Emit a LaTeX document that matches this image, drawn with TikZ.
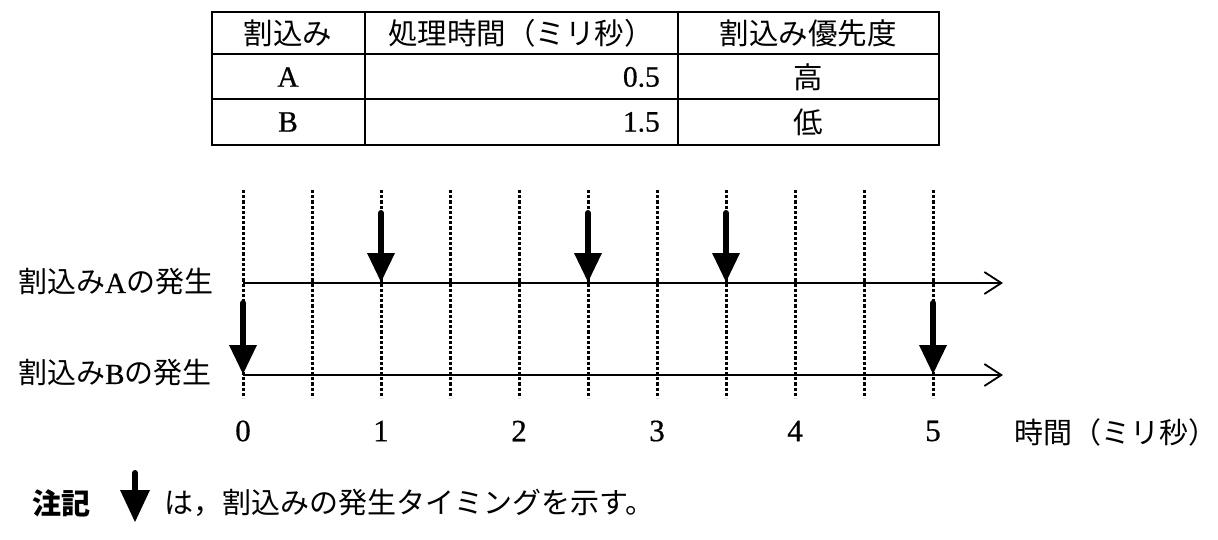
\documentclass[tikz,border=0pt]{standalone}
\usepackage{fontspec}
\setmainfont{Liberation Serif}[FakeBold=0.6]
\newfontfamily\cjk{Noto Sans CJK JP}
\usetikzlibrary{arrows.meta}
\newcommand{\evarrow}[4]{%
  \draw[line width=6pt,line cap=round] (#1,#2) -- (#1,#3+3);
  \fill (#1-14,#3) -- (#1+14,#3) -- (#1,#4) -- cycle;}
\begin{document}
\begin{tikzpicture}[x=1pt,y=-1pt,
  tline/.style={line width=1.8pt,-{Straight Barb[length=17pt,width=22pt,line width=1.8pt]}},
  dotl/.style={line width=3pt,dash pattern=on 3.2pt off 2pt},
  tabline/.style={line width=2pt},
  lbl/.style={inner sep=0pt,font=\fontsize{29}{32}\selectfont},
  num/.style={inner sep=0pt,font=\fontsize{31}{32}\selectfont},
  tab/.style={inner sep=0pt,font=\fontsize{29.5}{32}\selectfont},
]
\useasboundingbox (0,0) rectangle (1218,540);
% table
\draw[tabline] (212,12) rectangle (939,145);
\draw[tabline] (212,54) -- (939,54);
\draw[tabline] (212,99) -- (939,99);
\draw[tabline] (365,12) -- (365,145);
\draw[tabline] (678,12) -- (678,145);
\node[tab] (h1) at (288,33) {\cjk 割込み};
\node[tab] (h2) at (521,33) {\cjk 処理時間（ミリ秒）};
\node[tab] (h3) at (808,33) {\cjk 割込み優先度};
\node[tab] (ra) at (288,77) {A};
\node[tab,anchor=east] (ta) at (660,77) {0.5};
\node[tab] (pa) at (808,77) {\cjk 高};
\node[tab] (rb) at (288,122) {B};
\node[tab,anchor=east] (tb) at (660,122) {1.5};
\node[tab] (pb) at (808,122) {\cjk 低};
% dotted grid
\foreach \i in {0,...,10}{
  \draw[dotl] (243+69*\i,190) -- (243+69*\i,398);
}
% timelines
\coordinate (a0) at (243,283);
\coordinate (a1) at (1003,283);
\coordinate (b0) at (243,375);
\coordinate (b1) at (1003,375);
\draw[tline] (a0) -- (a1);
\draw[tline] (b0) -- (b1);
\node[lbl,anchor=west] (la) at (18,282) {{\cjk 割込み}A{\cjk の発生}};
\node[lbl,anchor=west] (lb) at (18,373) {{\cjk 割込み}B{\cjk の発生}};
% event arrows
\evarrow{381}{213}{253}{282}
\evarrow{588}{213}{253}{282}
\evarrow{726}{213}{253}{282}
\evarrow{243}{303}{345}{374}
\evarrow{933}{303}{345}{374}
% axis numbers
\foreach \n in {0,...,5}{
  \node[num] (n\n) at (243+138*\n,431) {\n};
}
\node[lbl,anchor=west] (unit) at (1014,432) {\cjk 時間（ミリ秒）};
% note
\node[lbl,anchor=west] (note) at (32,503) {\cjk\bfseries 注記};
\draw[line width=6pt,line cap=round] (135,473) -- (135,493);
\fill (120,490) -- (150,490) -- (135,522) -- cycle;
\node[lbl,anchor=west] (notetext) at (164,503) {\cjk は，割込みの発生タイミングを示す。};
\end{tikzpicture}
\end{document}
